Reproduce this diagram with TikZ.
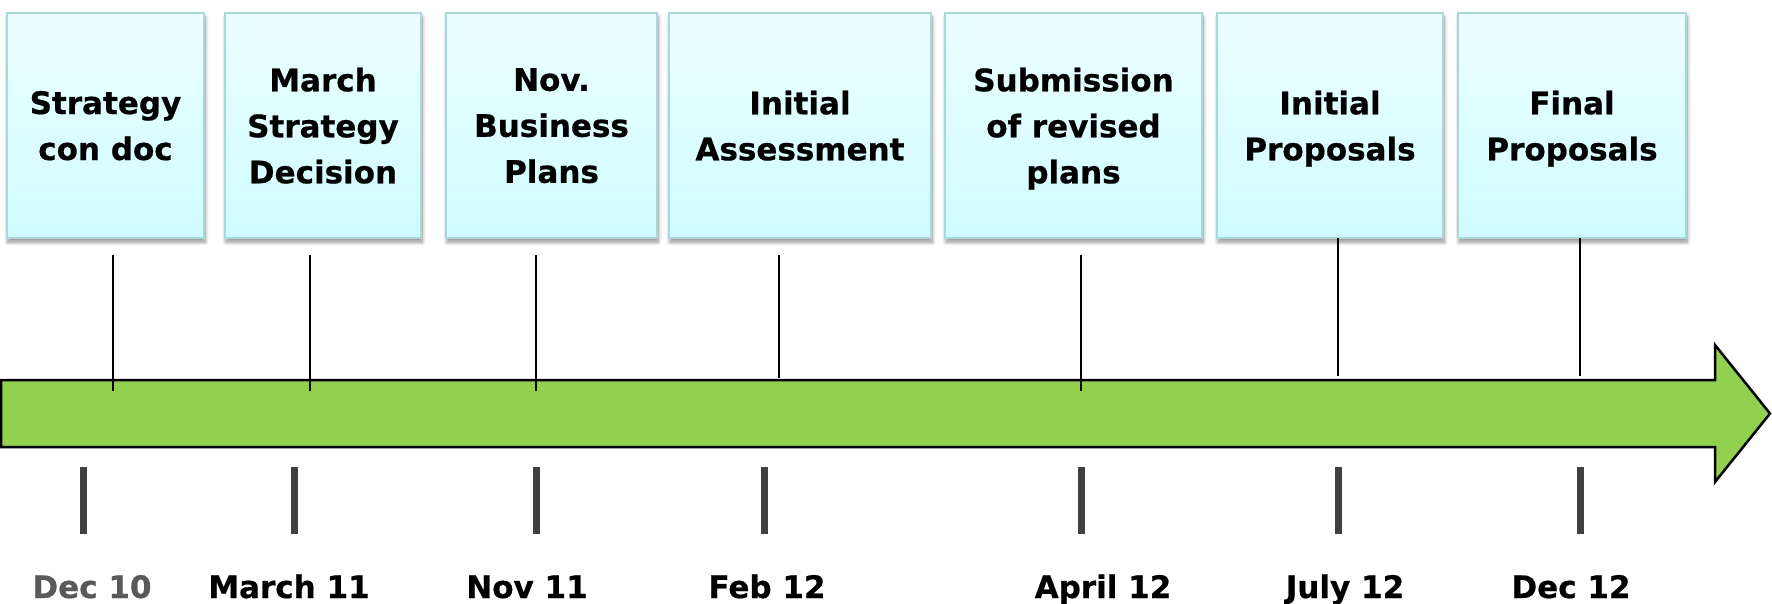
\documentclass[tikz,border=0pt]{standalone}
\usepackage{fontspec}
\setmainfont{DejaVu Sans}
\newfontfamily\heavyfont{DejaVu Sans Bold}[FakeBold=0.6]
\usetikzlibrary{shadows.blur}
\definecolor{arrowgreen}{HTML}{92D050}
\definecolor{boxtop}{HTML}{ECFFFF}
\definecolor{boxbot}{HTML}{CFFCFF}
\definecolor{boxline}{HTML}{A8D8DC}
\definecolor{tickgray}{HTML}{404040}
\definecolor{labgray}{HTML}{595959}
\begin{document}
\begin{tikzpicture}[x=1pt,y=-1pt,
  event/.style={rectangle, draw=boxline, line width=2.5pt, top color=boxtop, bottom color=boxbot,
    minimum height=225pt, inner sep=0pt, outer sep=0pt, align=center, text depth=0pt,
    font=\fontsize{31}{46}\heavyfont,
    blur shadow={shadow xshift=1pt, shadow yshift=-4pt, shadow blur radius=4pt,
      shadow blur steps=8, shadow opacity=45}},
  datelab/.style={anchor=base, inner sep=0pt, font=\fontsize{31}{46}\heavyfont, text=black},
  link/.style={draw=black, line width=2pt},
  tickmark/.style={draw=tickgray, line width=7pt}]
\useasboundingbox (0,0) rectangle (1772,603);

% event boxes
\node[event, minimum width=197pt] (b1) at (105.5,125.5) {Strategy\\con doc};
\node[event, minimum width=196pt] (b2) at (323,125.5) {March\\Strategy\\Decision};
\node[event, minimum width=211pt] (b3) at (551.5,125.5) {Nov.\\Business\\Plans};
\node[event, minimum width=262pt] (b4) at (800,125.5) {Initial\\Assessment};
\node[event, minimum width=257pt] (b5) at (1073.5,125.5) {Submission\\of revised\\plans};
\node[event, minimum width=226pt] (b6) at (1330,125.5) {Initial\\Proposals};
\node[event, minimum width=228pt] (b7) at (1572,125.5) {Final\\Proposals};

% timeline arrow
\draw[fill=arrowgreen, line width=2.5pt, line join=miter]
  (1,380) -- (1715,380) -- (1715,345) -- (1770,413.5) -- (1715,482) -- (1715,447) -- (1,447) -- cycle;

% connector end points
\coordinate (t1) at (113,255);  \coordinate (e1) at (113,391);
\coordinate (t2) at (310,255);  \coordinate (e2) at (310,391);
\coordinate (t3) at (536,255);  \coordinate (e3) at (536,391);
\coordinate (t4) at (779,255);  \coordinate (e4) at (779,378);
\coordinate (t5) at (1081,255); \coordinate (e5) at (1081,391);
\coordinate (e6) at (1338,376);
\coordinate (e7) at (1580,376);

\draw[link] (t1) -- (e1);
\draw[link] (t2) -- (e2);
\draw[link] (t3) -- (e3);
\draw[link] (t4) -- (e4);
\draw[link] (t5) -- (e5);
\draw[link] (b6.south -| e6) -- (e6);
\draw[link] (b7.south -| e7) -- (e7);

% tick marks
\foreach \x in {83,294,536,764,1081,1338,1580}
  \draw[tickmark] (\x,467) -- (\x,534);

% date labels
\node[datelab, text=labgray] (d1) at (92,598) {Dec 10};
\node[datelab] (d2) at (289,598) {March 11};
\node[datelab] (d3) at (527,598) {Nov 11};
\node[datelab] (d4) at (767,598) {Feb 12};
\node[datelab] (d5) at (1103,598) {April 12};
\node[datelab] (d6) at (1345,598) {July 12};
\node[datelab] (d7) at (1571,598) {Dec 12};
\end{tikzpicture}
\end{document}
